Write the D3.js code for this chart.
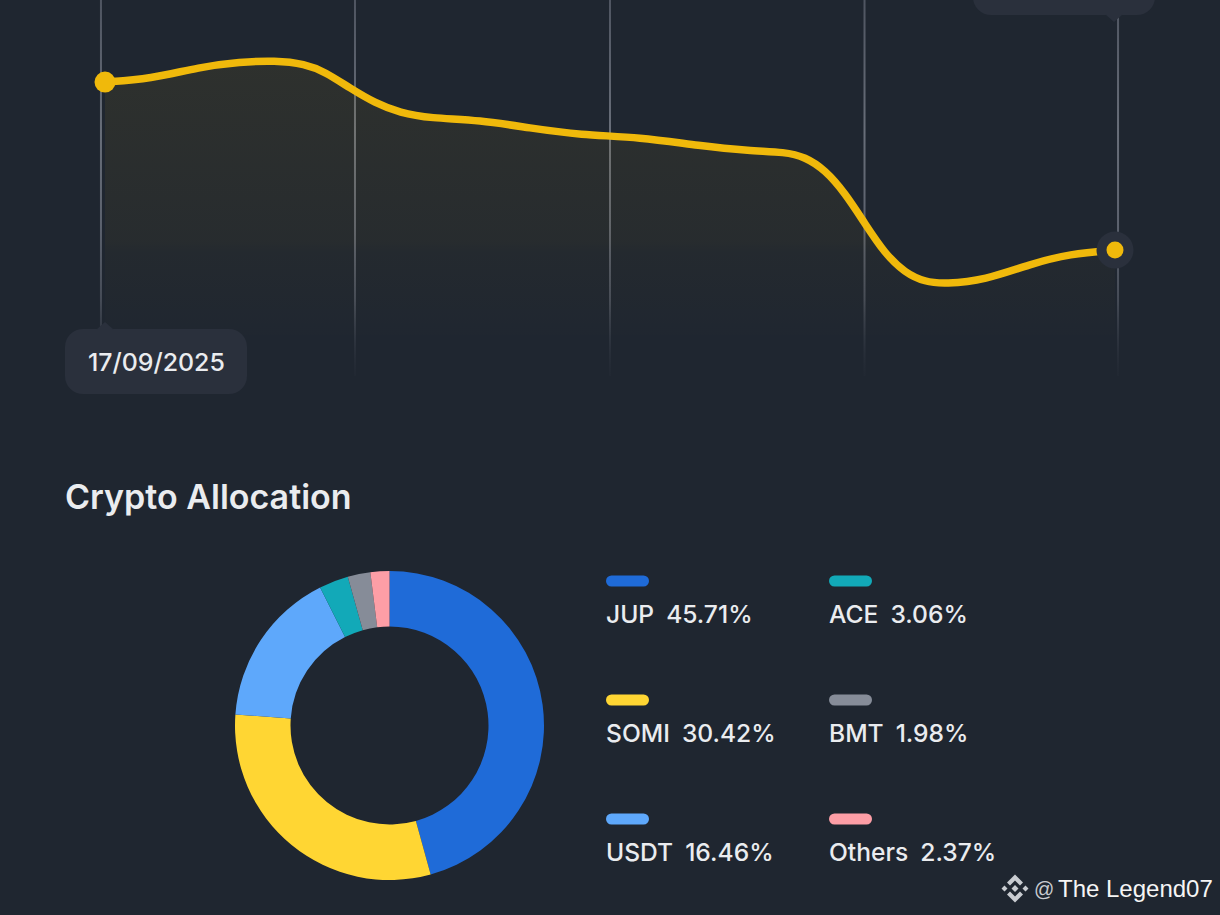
<!DOCTYPE html>
<html><head><meta charset="utf-8">
<script src="https://cdn.jsdelivr.net/npm/d3@7/dist/d3.min.js"></script>
<style>html,body{margin:0;padding:0;background:#1f2630;overflow:hidden}svg{display:block}</style>
</head><body><svg id="c" width="1220" height="915"></svg>
<script>
// Line chart: position along the period (0-100) and relative value (0-100)
const linePos = [0,4.46,9.41,13.37,16.83,19.8,21.78,24.26,26.73,29.21,32.18,37.13,42.08,47.03,52.97,58.91,63.86,67.33,69.31,71.29,73.27,75.25,77.23,79.21,81.19,83.17,87.13,91.58,95.54,100];
const lineVal = [78.4,79.2,82.4,83.7,84.1,83.2,81.1,76.8,72.9,70.3,68.9,68.4,66.3,64.5,63.9,61.6,60.3,60,58.7,55.3,49.2,41.1,33.2,28.2,25.8,25.3,26.3,30.5,33.2,34.2];
const gridPos = [-0.4,24.75,50,75.2,100.3];
const startDate = "17/09/2025";
const sectionTitle = "Crypto Allocation";
// Allocation
const assets = ["JUP","SOMI","USDT","ACE","BMT","Others"];
const legendShares = ["45.71%","30.42%","16.46%","3.06%","1.98%","2.37%"];
const colors = ["#1f6bd8","#ffd633","#5ea8fb","#12a9b8","#868c98","#fd9ea6"];
// Slice sizes as drawn in the picture (the grey slice is pictured wider than the pink one)
const sliceSizes = [45.71,30.42,16.46,3.06,2.37,1.98];
const watermark = "The Legend07";

const FONT = 'Inter, sans-serif';
const svg = d3.select("#c");
const defs = svg.append("defs");
const x = d3.scaleLinear().domain([0,100]).range([105,1115]);
const y = d3.scaleLinear().domain([0,100]).range([380,0]);

const gg = defs.append("linearGradient").attr("id","grid").attr("x1",0).attr("x2",0).attr("y1",0).attr("y2",1);
[[0,"#4f5561",1],[0.35,"#686e79",1],[0.6,"#5c626e",1],[0.8,"#454b56",1],[1,"#2a303b",0.2]].forEach(s=>
  gg.append("stop").attr("offset",s[0]).attr("stop-color",s[1]).attr("stop-opacity",s[2]));
const ag = defs.append("linearGradient").attr("id","area").attr("gradientUnits","userSpaceOnUse")
  .attr("x1",0).attr("x2",0).attr("y1",60).attr("y2",335);
[[0,0.072],[0.66,0.04],[0.7,0.024],[1,0.004]].forEach(s=>
  ag.append("stop").attr("offset",s[0]).attr("stop-color","#f0b90b").attr("stop-opacity",s[1]));

// grid
svg.append("g").selectAll("rect").data(gridPos).join("rect")
  .attr("x",d=>x(d)-1).attr("y",0).attr("width",2).attr("height",376).attr("fill","url(#grid)");

// area + line
const pts = d3.zip(linePos,lineVal);
const curve = d3.curveBasis;
svg.append("path").datum(pts)
  .attr("d",d3.area().x(d=>x(d[0])).y0(y(0)-45).y1(d=>y(d[1])).curve(curve))
  .attr("fill","url(#area)");
svg.append("path").datum(pts)
  .attr("d",d3.line().x(d=>x(d[0])).y(d=>y(d[1])).curve(curve))
  .attr("fill","none").attr("stroke","#f0b90b").attr("stroke-width",7.5);

// end points
const last = pts[pts.length-1];
svg.append("circle").attr("cx",x(0)).attr("cy",y(lineVal[0])).attr("r",10.5).attr("fill","#f0b90b");
svg.append("circle").attr("cx",x(last[0])).attr("cy",y(last[1])).attr("r",18.5).attr("fill","#2a303c");
svg.append("circle").attr("cx",x(last[0])).attr("cy",y(last[1])).attr("r",8.5).attr("fill","#f0b90b");

// tooltips
const tip = "#2a303c";
svg.append("rect").attr("x",65).attr("y",329).attr("width",182).attr("height",65).attr("rx",18).attr("fill",tip);
svg.append("path").attr("d","M96 330 L105 322 L114 330 Z").attr("fill",tip);
svg.append("text").attr("x",88).attr("y",371).attr("font-family",FONT).attr("font-size",24.9).attr("font-weight",500)
  .attr("fill","#eaecef").text(startDate);
svg.append("rect").attr("x",973).attr("y",-50).attr("width",182).attr("height",65).attr("rx",18).attr("fill",tip);
svg.append("path").attr("d","M1105 14 L1114 22 L1123 14 Z").attr("fill",tip);

// title
svg.append("text").attr("x",65).attr("y",509).attr("font-family",FONT).attr("font-size",34)
  .attr("font-weight",600).attr("fill","#eaecef").text(sectionTitle);

// donut
const pie = d3.pie().sort(null);
const arc = d3.arc().innerRadius(99).outerRadius(154.5);
svg.append("g").attr("transform","translate(389.5,725.5)")
  .selectAll("path").data(pie(sliceSizes)).join("path")
  .attr("d",arc).attr("fill",(d,i)=>colors[i]);

// legend
const legX = [606,829], legY = [581,700,819];
const leg = svg.append("g").selectAll("g").data(assets).join("g")
  .attr("transform",(d,i)=>`translate(${legX[Math.floor(i/3)]},${legY[i%3]})`);
leg.append("rect").attr("y",-5.5).attr("width",43).attr("height",11).attr("rx",5.5).attr("fill",(d,i)=>colors[i]);
const lt = leg.append("text").attr("y",42).attr("font-family",FONT).attr("font-size",24.6).attr("font-weight",500).attr("fill","#eaecef");
lt.append("tspan").text(d=>d);
lt.append("tspan").attr("dx",12).text((d,i)=>legendShares[i]);

// watermark
const wm = svg.append("g").attr("transform","translate(1015,888.5)").attr("fill","#c9ccd1");
wm.append("path").attr("d","M0 -14 L8 -6 L5 -3 L0 -8 L-5 -3 L-8 -6 Z M0 14 L8 6 L5 3 L0 8 L-5 3 L-8 6 Z M0 -3.5 L3.5 0 L0 3.5 L-3.5 0 Z M-10.5 -3 L-7.5 0 L-10.5 3 L-13.5 0 Z M10.5 -3 L13.5 0 L10.5 3 L7.5 0 Z");
svg.append("text").attr("x",1034).attr("y",896).attr("font-family",'"Liberation Sans",sans-serif')
  .attr("font-size",20).attr("fill","#c9ccd1").text("@");
svg.append("text").attr("x",1058).attr("y",897).attr("font-family",'"Liberation Sans",sans-serif')
  .attr("font-size",24).attr("fill","#f5f5f5").text(watermark);
</script></body></html>
